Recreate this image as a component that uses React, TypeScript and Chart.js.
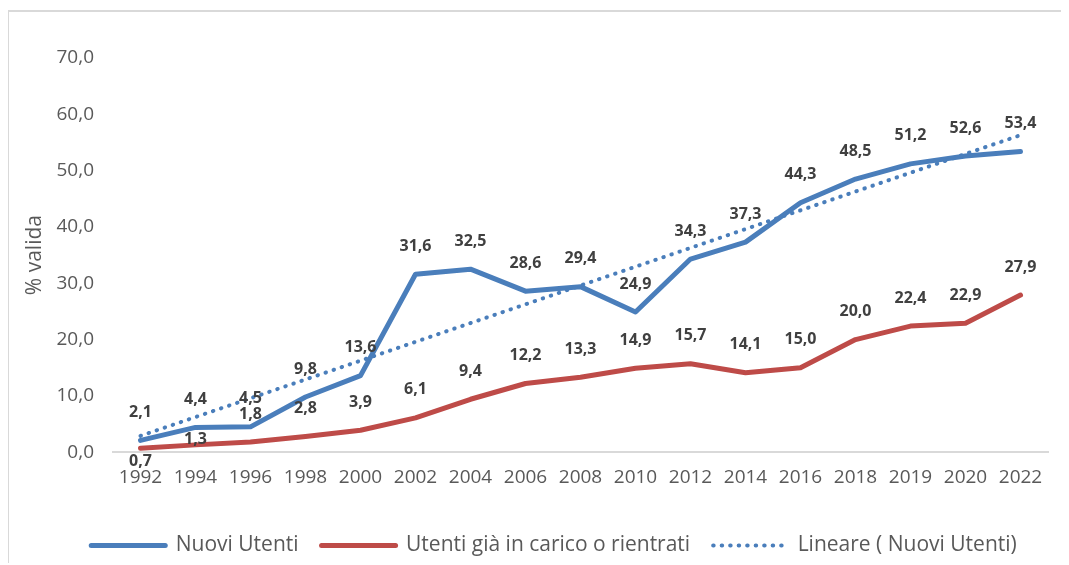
import React, { useEffect, useRef } from 'react';
import { Chart, registerables } from 'chart.js';

Chart.register(...registerables);

const years = ['1992', '1994', '1996', '1998', '2000', '2002', '2004', '2006', '2008', '2010', '2012', '2014', '2016', '2018', '2019', '2020', '2022'];
const nuoviUtenti = [2.1, 4.4, 4.5, 9.8, 13.6, 31.6, 32.5, 28.6, 29.4, 24.9, 34.3, 37.3, 44.3, 48.5, 51.2, 52.6, 53.4];
const utentiGia = [0.7, 1.3, 1.8, 2.8, 3.9, 6.1, 9.4, 12.2, 13.3, 14.9, 15.7, 14.1, 15.0, 20.0, 22.4, 22.9, 27.9];
const trendYears = ['1992', '2022'];
const trendValues = [2.9, 56.3];
const yMin = 0;
const yMax = 70;
const yStep = 10;
const yTitle = '% valida';

const BLUE = '#4a7ebb';
const RED = '#be4b48';
const FONT = '"Open Sans", "Noto Sans", sans-serif';

const fmt = (v: number) => v.toFixed(1).replace('.', ',');

const valueLabels = {
  id: 'valueLabels',
  afterDatasetsDraw(chart: any) {
    const ctx = chart.ctx;
    ctx.save();
    ctx.font = `bold 16px ${FONT}`;
    ctx.fillStyle = '#404040';
    ctx.textAlign = 'center';
    ctx.textBaseline = 'middle';
    [0, 1].forEach((di) => {
      const meta = chart.getDatasetMeta(di);
      const vals = chart.data.datasets[di].data as number[];
      meta.data.forEach((pt: any, i: number) => {
        let dy = -28;
        if (di === 1 && i === 0) dy = 13;
        if (di === 1 && i === 1) dy = -5;
        ctx.fillText(fmt(vals[i]), pt.x, pt.y + dy);
      });
    });
    ctx.restore();
  },
};

const axisTitle = {
  id: 'axisTitle',
  afterDraw(chart: any) {
    const ctx = chart.ctx;
    const { top, bottom } = chart.chartArea;
    ctx.save();
    ctx.translate(26, (top + bottom) / 2);
    ctx.rotate(-Math.PI / 2);
    ctx.font = `21px ${FONT}`;
    ctx.fillStyle = '#595959';
    ctx.textAlign = 'center';
    ctx.textBaseline = 'middle';
    ctx.fillText(yTitle, 0, 0);
    ctx.restore();
  },
};

const legendShift = {
  id: 'legendShift',
  afterLayout(chart: any) {
    if (chart.legend) {
      chart.legend.left += 18;
      chart.legend.right += 18;
    }
  },
};

export default function App() {
  const ref = useRef<HTMLCanvasElement | null>(null);

  useEffect(() => {
    if (!ref.current) return;
    document.documentElement.style.overflow = 'hidden';
    const chart = new Chart(ref.current, {
      type: 'line',
      data: {
        labels: years,
        datasets: [
          {
            label: 'Nuovi Utenti',
            data: nuoviUtenti,
            borderColor: BLUE,
            backgroundColor: BLUE,
            borderWidth: 5,
            borderCapStyle: 'round',
            borderJoinStyle: 'round',
            pointRadius: 0,
            order: 1,
          },
          {
            label: 'Utenti già in carico o rientrati',
            data: utentiGia,
            borderColor: RED,
            backgroundColor: RED,
            borderWidth: 5,
            borderCapStyle: 'round',
            borderJoinStyle: 'round',
            pointRadius: 0,
            order: 1,
          },
          {
            label: 'Lineare ( Nuovi Utenti)',
            data: trendYears.map((x, i) => ({ x, y: trendValues[i] })) as any,
            borderColor: BLUE,
            backgroundColor: BLUE,
            borderWidth: 4,
            borderCapStyle: 'round',
            borderDash: [0.5, 8],
            pointRadius: 0,
            order: 0,
          },
        ],
      },
      options: {
        animation: false,
        responsive: false,
        maintainAspectRatio: false,
        layout: { padding: { top: 46, right: 21, bottom: 0, left: 15 } },
        plugins: {
          tooltip: { enabled: false },
          legend: {
            position: 'bottom',
            labels: {
              usePointStyle: true,
              pointStyle: 'line',
              pointStyleWidth: 74,
              padding: 23,
              color: '#595959',
              font: { family: FONT, size: 21 },
              sort: (a: any, b: any) => a.datasetIndex - b.datasetIndex,
              generateLabels: (c: any) => {
                const items = (Chart as any).defaults.plugins.legend.labels.generateLabels(c);
                return items.map((it: any) => {
                  const ds: any = c.data.datasets[it.datasetIndex];
                  return {
                    ...it,
                    lineDash: ds.borderDash || [],
                    lineWidth: ds.borderWidth,
                    lineCap: 'round',
                    strokeStyle: ds.borderColor,
                    fillStyle: ds.borderColor,
                    pointStyle: 'line',
                  };
                });
              },
            },
          },
        },
        scales: {
          x: {
            offset: true,
            afterFit: (scale: any) => {
              scale.height += 9;
            },
            grid: { display: false, drawTicks: false },
            border: { display: true, color: '#d9d9d9', width: 2 },
            ticks: {
              color: '#595959',
              font: { family: FONT, size: 19 },
              padding: 14,
              maxRotation: 0,
              autoSkip: false,
            },
          },
          y: {
            min: yMin,
            max: yMax,
            afterFit: (scale: any) => {
              scale.width = 89;
            },
            grid: { display: false, drawTicks: false },
            border: { display: false },
            ticks: {
              stepSize: yStep,
              color: '#595959',
              font: { family: FONT, size: 19 },
              padding: 19,
              callback: (v: any) => fmt(Number(v)),
            },
          },
        },
      },
      plugins: [valueLabels, axisTitle, legendShift],
    });
    return () => chart.destroy();
  }, []);

  return (
    <div style={{ paddingTop: 2 }}>
      <div
        style={{
          width: 1061,
          height: 553,
          boxSizing: 'border-box',
          borderTop: '2px solid #d9d9d9',
          borderLeft: '1px solid #d9d9d9',
          position: 'relative',
        }}
      >
        <canvas ref={ref} width={1060} height={554} style={{ display: 'block' }} />
      </div>
    </div>
  );
}
